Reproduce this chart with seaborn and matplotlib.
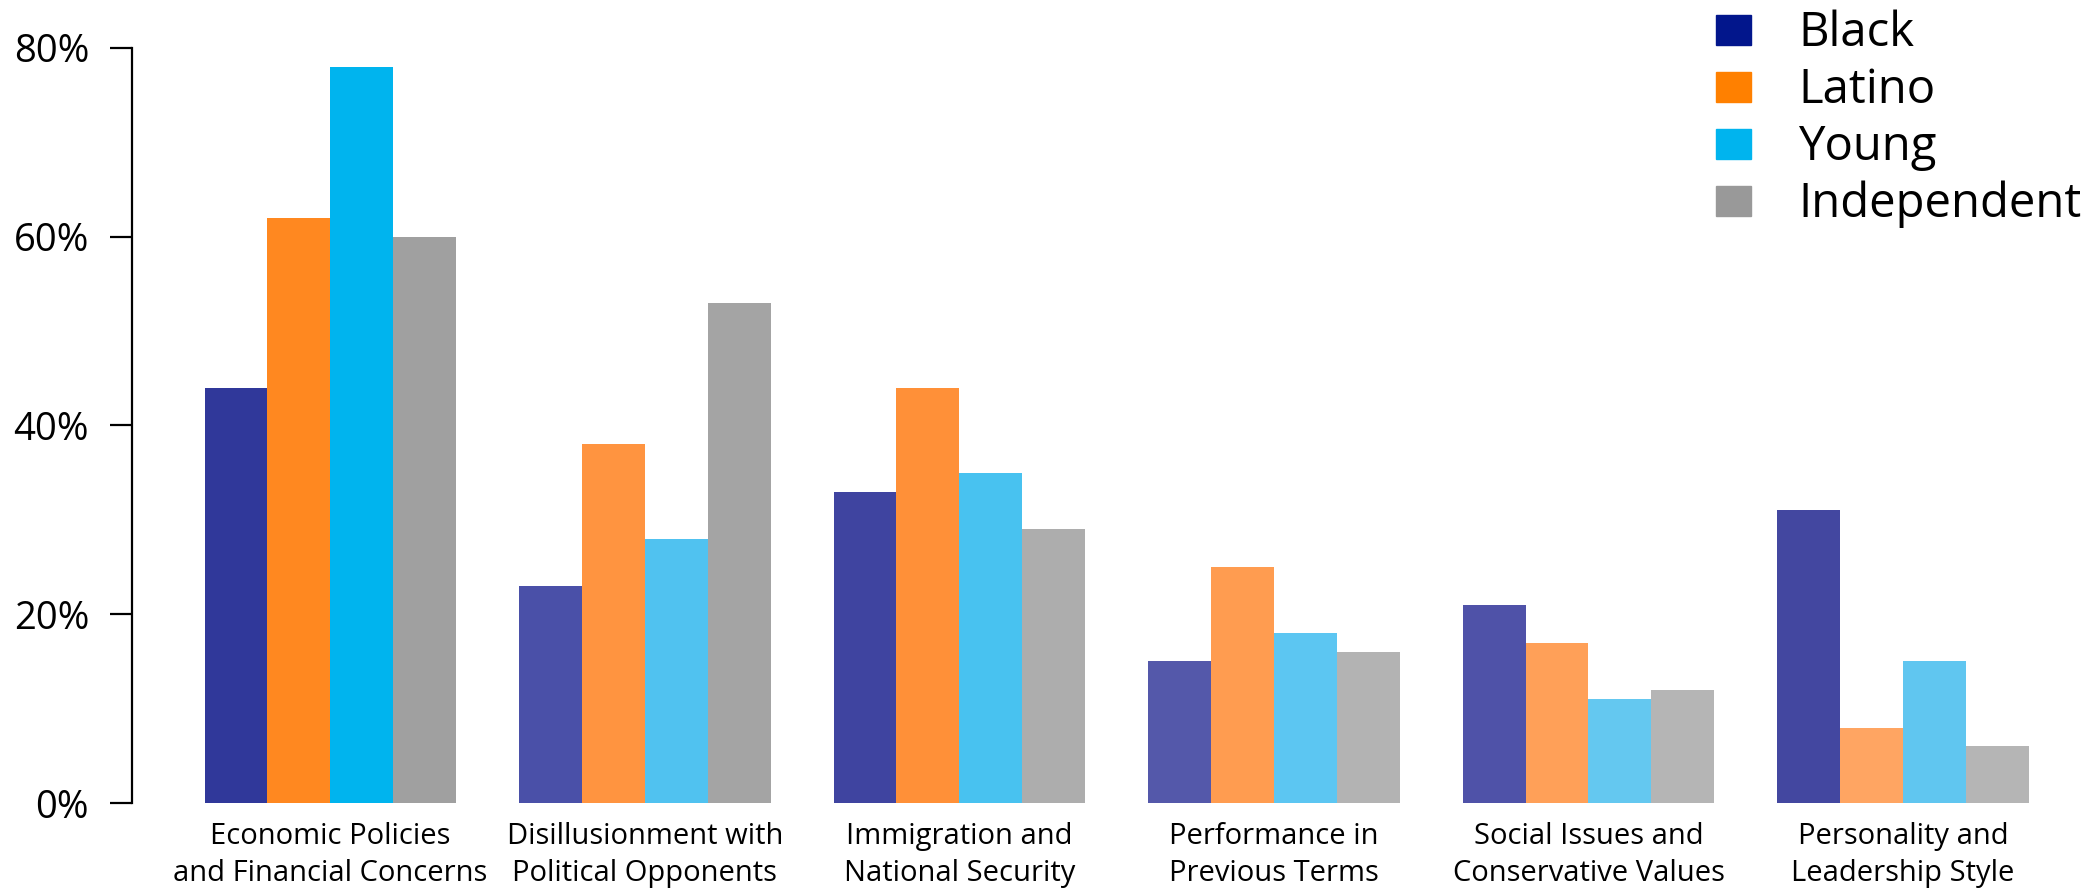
import pandas as pd
import matplotlib
matplotlib.use('Agg')
import matplotlib.pyplot as plt
import seaborn as sns
from matplotlib.patches import Patch

categories = ['Economic Policies\nand Financial Concerns',
              'Disillusionment with\nPolitical Opponents',
              'Immigration and\nNational Security',
              'Performance in\nPrevious Terms',
              'Social Issues and\nConservative Values',
              'Personality and\nLeadership Style']
groups = ['Black', 'Latino', 'Young', 'Independent']

black = [44, 23, 33, 15, 21, 31]
latino = [62, 38, 44, 25, 17, 8]
young = [78, 28, 35, 18, 11, 15]
independent = [60, 53, 29, 16, 12, 6]

legend_colors = ['#02168C', '#FF8000', '#00B4EE', '#999999']
# bar shades per category (each group a bit lighter)
bar_colors = [
    ['#30389A', '#FF8820', '#00B4EE', '#A0A0A0'],
    ['#4A50A8', '#FF9440', '#50C2F0', '#A4A4A4'],
    ['#3F44A0', '#FF9038', '#48C2F0', '#ADADAD'],
    ['#5458AA', '#FF9C50', '#5CC6F2', '#B3B3B3'],
    ['#4F52A8', '#FFA058', '#64C8F0', '#B5B5B5'],
    ['#4347A0', '#FFA562', '#60C6F0', '#B5B5B5'],
]

df = pd.DataFrame({'category': categories * 4,
                   'group': [g for g in groups for _ in categories],
                   'value': black + latino + young + independent})

sns.set_style('white')
plt.rcParams['font.family'] = ['Open Sans', 'DejaVu Sans']
plt.rcParams['text.color'] = 'black'

fig = plt.figure(figsize=(20.98, 8.88), dpi=100)
ax = fig.add_axes([0.063, 0.0957, 0.937, 0.8503])

sns.barplot(data=df, x='category', y='value', hue='group',
            palette=legend_colors, width=0.8, linewidth=0,
            saturation=1, legend=False, ax=ax)

for j, cont in enumerate(ax.containers):
    for i, bar in enumerate(cont):
        bar.set_facecolor(bar_colors[i][j])

ax.set_xlim(-0.63, 5.62)
ax.set_ylim(0, 80)
ax.set_yticks([0, 20, 40, 60, 80])
ax.set_yticklabels(['0%', '20%', '40%', '60%', '80%'])
ax.set_xlabel('')
ax.set_ylabel('')
for s in ['top', 'right', 'bottom']:
    ax.spines[s].set_visible(False)
ax.spines['left'].set_linewidth(1.6)
ax.spines['left'].set_color('black')
ax.tick_params(axis='y', length=16, width=1.6, pad=15, labelsize=27.5,
               colors='black', left=True)
ax.tick_params(axis='x', length=0, pad=14, labelsize=21, colors='black')
for lbl in ax.get_xticklabels():
    lbl.set_linespacing(1.36)

handles = [Patch(color=c, label=g) for g, c in zip(groups, legend_colors)]
fig.legend(handles=handles, loc='upper right', bbox_to_anchor=(1.008, 1.026),
           frameon=False, fontsize=34, handlelength=0.75, handleheight=0.6,
           handletextpad=1.0, labelspacing=0.2, borderpad=0.2)

fig.savefig('out.png', dpi=100)
